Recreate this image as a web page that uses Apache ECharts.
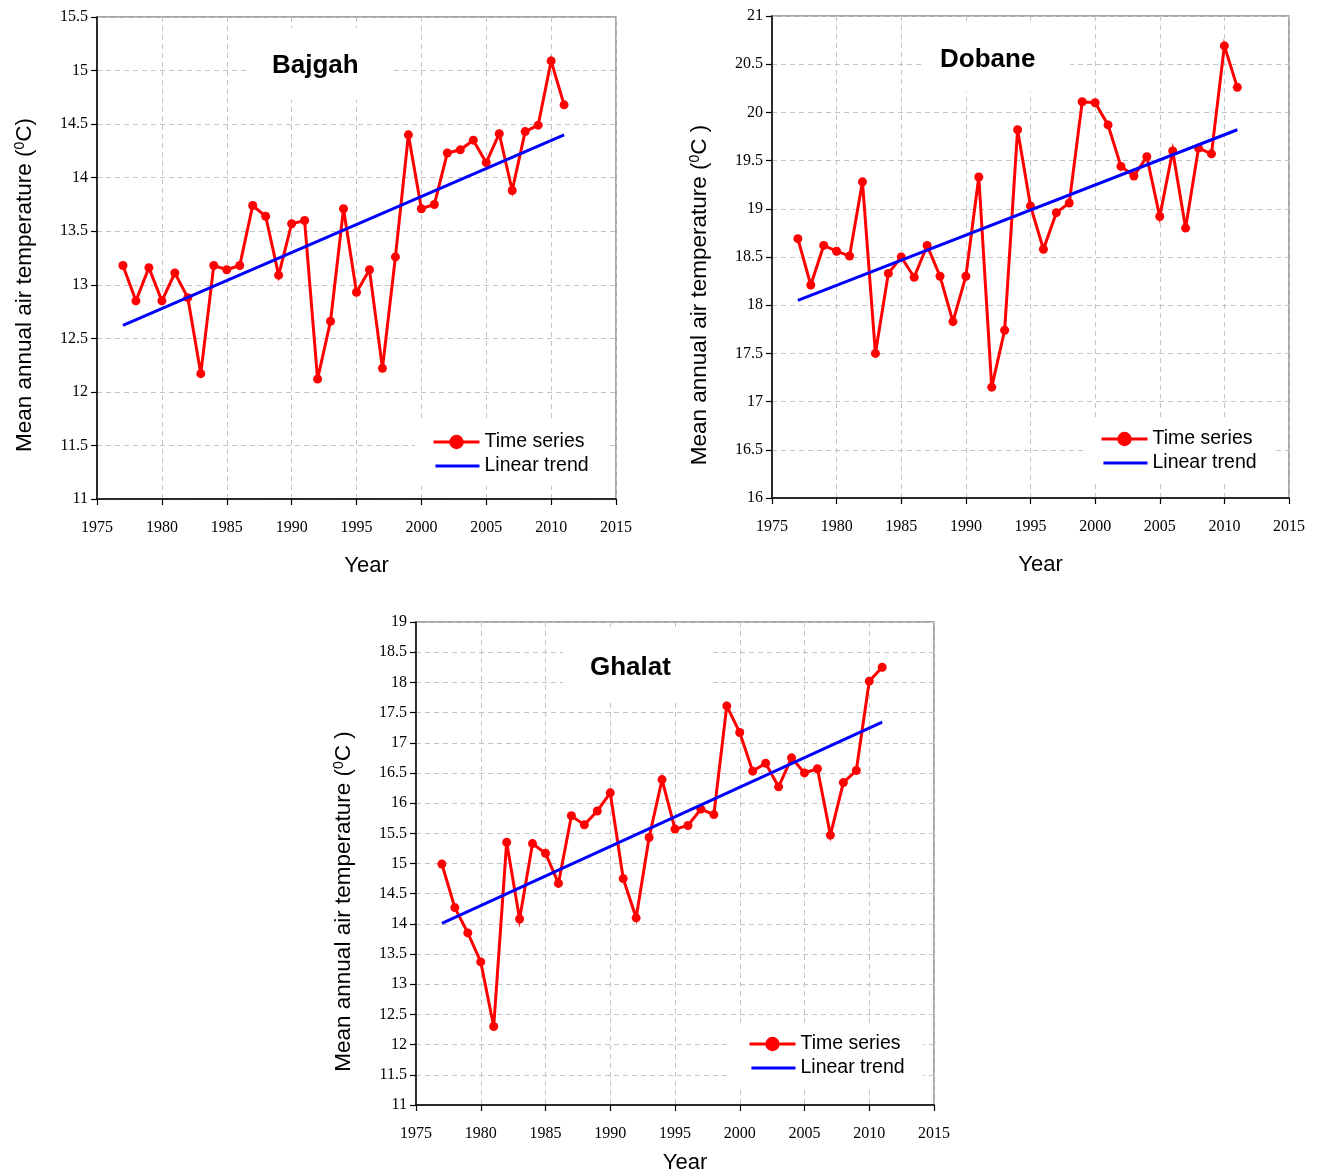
<!DOCTYPE html>
<html>
<head>
<meta charset="utf-8">
<script src="https://cdn.jsdelivr.net/npm/echarts@6/dist/echarts.min.js"></script>
<style>
html,body{margin:0;padding:0;background:#fff;}
#c{width:1317px;height:1173px;}
</style>
</head>
<body>
<div id="c"></div>
<script>
const years = [1977,1978,1979,1980,1981,1982,1983,1984,1985,1986,1987,1988,1989,1990,1991,1992,1993,1994,1995,1996,1997,1998,1999,2000,2001,2002,2003,2004,2005,2006,2007,2008,2009,2010,2011];
const bajgahTemp = [13.18,12.85,13.16,12.85,13.11,12.88,12.17,13.18,13.14,13.18,13.74,13.64,13.09,13.57,13.60,12.12,12.66,13.71,12.93,13.14,12.22,13.26,14.40,13.71,13.75,14.23,14.26,14.35,14.14,14.41,13.88,14.43,14.49,15.09,14.68];
const dobaneTemp = [18.69,18.21,18.62,18.56,18.51,19.28,17.50,18.33,18.50,18.29,18.62,18.30,17.83,18.30,19.33,17.15,17.74,19.82,19.03,18.58,18.96,19.06,20.11,20.10,19.87,19.44,19.34,19.54,18.92,19.60,18.80,19.63,19.57,20.69,20.26];
const ghalatTemp = [14.99,14.27,13.85,13.37,12.30,15.35,14.08,15.33,15.17,14.67,15.79,15.64,15.87,16.17,14.75,14.10,15.43,16.39,15.57,15.63,15.90,15.81,17.61,17.17,16.53,16.66,16.27,16.75,16.50,16.57,15.47,16.34,16.54,18.02,18.25];
const trendYears = [1977, 2011];
const bajgahTrend = [12.62, 14.40];
const dobaneTrend = [18.05, 19.82];
const ghalatTrend = [14.01, 17.34];
const stationNames = ['Bajgah', 'Dobane', 'Ghalat'];
const legendNames = ['Time series', 'Linear trend'];
const yTitles = ['Mean annual air temperature ({sup|0}C)', 'Mean annual air temperature ({sup|0}C )', 'Mean annual air temperature ({sup|0}C )'];
const xTitle = 'Year';

const zip = (xs, ys) => xs.map((x, i) => [x, ys[i]]);
const SANS = '"Liberation Sans", Arial, Helvetica, sans-serif';
const SERIF = '"Liberation Serif", "Times New Roman", serif';

const grids = [
  {left: 97, top: 17, width: 519, height: 482},
  {left: 772, top: 16, width: 517, height: 482},
  {left: 416, top: 622, width: 518, height: 483}
];
const yRanges = [[11, 15.5], [16, 21], [11, 19]];
const yNamePad = [54, 76, 76];
const xNameGap = [56, 56, 47];

const xAxes = grids.map((g, i) => ({
  type: 'value', gridIndex: i, min: 1975, max: 2015, interval: 5,
  name: xTitle, nameLocation: 'middle', nameGap: xNameGap[i],
  nameTextStyle: {fontFamily: SANS, fontSize: 22, color: '#000', padding: [0, 0, 0, 20]},
  axisLine: {show: true, onZero: false, lineStyle: {color: '#000', width: 1.5}},
  axisTick: {show: true, length: 6, lineStyle: {color: '#000', width: 1.2}},
  axisLabel: {fontFamily: SERIF, fontSize: 16, color: '#000', margin: 21, formatter: v => String(v)},
  splitLine: {show: true, lineStyle: {color: '#c4c4c4', type: [5, 4], width: 1}}
}));
const yAxes = grids.map((g, i) => ({
  type: 'value', gridIndex: i, min: yRanges[i][0], max: yRanges[i][1], interval: 0.5,
  name: yTitles[i], nameLocation: 'middle', nameGap: 60, nameRotate: 90,
  nameTextStyle: {fontFamily: SANS, fontSize: 22.5, color: '#000', padding: [0, yNamePad[i], 0, 0],
    rich: {sup: {fontFamily: SANS, fontSize: 14, color: '#000', padding: [0, 0, 10, 0]}}},
  axisLine: {show: true, onZero: false, lineStyle: {color: '#000', width: 1.5}},
  axisTick: {show: true, length: 6, lineStyle: {color: '#000', width: 1.2}},
  axisLabel: {fontFamily: SERIF, fontSize: 16, color: '#000', margin: 9},
  splitLine: {show: true, lineStyle: {color: '#c4c4c4', type: [5, 4], width: 1}}
}));

const temps = [bajgahTemp, dobaneTemp, ghalatTemp];
const trends = [bajgahTrend, dobaneTrend, ghalatTrend];
const series = [];
temps.forEach((t, i) => {
  series.push({
    name: legendNames[0], type: 'line', xAxisIndex: i, yAxisIndex: i,
    data: zip(years, t), symbol: 'circle', symbolSize: 9, z: 3,
    itemStyle: {color: '#ff0000'},
    lineStyle: {color: '#ff0000', width: 3, join: 'miter', miterLimit: 6},
    animation: false
  });
  series.push({
    name: legendNames[1], type: 'line', xAxisIndex: i, yAxisIndex: i,
    data: zip(trendYears, trends[i]), symbol: 'none', z: 4,
    itemStyle: {color: '#0000ff'},
    lineStyle: {color: '#0000ff', width: 3},
    animation: false
  });
});

const titleBoxes = [
  {left: 247, top: 28, padding: [25, 35, 21, 25]},
  {left: 923, top: 25, padding: [22, 35, 19, 17]},
  {left: 563, top: 630, padding: [25, 40, 19, 27]}
];
const titles = stationNames.map((n, i) => Object.assign({
  text: n, backgroundColor: '#ffffff',
  textStyle: {fontFamily: SANS, fontSize: 26, fontWeight: 'bold', color: '#000'}
}, titleBoxes[i]));

const legendPos = [
  {left: 415, top: 422},
  {left: 1083, top: 419},
  {left: 731, top: 1024}
];
const lineIcon = 'path://M0,0 M46,18 M2,7.5 L48,7.5 L48,10.5 L2,10.5 Z';
const legends = legendPos.map((p, i) => Object.assign({
  data: [{name: legendNames[0]}, {name: legendNames[1], icon: lineIcon}],
  orient: 'vertical', selectedMode: false,
  backgroundColor: '#ffffff', padding: [10, 18, 10, 17],
  itemWidth: 46, itemHeight: 18, itemGap: 4, itemTextGap: 8,
  lineStyle: {width: 3},
  textStyle: {fontFamily: SANS, fontSize: 19.5, color: '#000', lineHeight: 20}
}, p));

const chart = echarts.init(document.getElementById('c'), null, {renderer: 'canvas'});
chart.setOption({
  backgroundColor: '#ffffff',
  animation: false,
  title: titles,
  legend: legends,
  grid: grids.map(g => Object.assign({show: true, outerBoundsMode: 'none', containLabel: false,
    borderColor: '#8a8a8a', borderWidth: 1.5, backgroundColor: 'transparent'}, g)),
  xAxis: xAxes,
  yAxis: yAxes,
  series: series
});
</script>
</body>
</html>
